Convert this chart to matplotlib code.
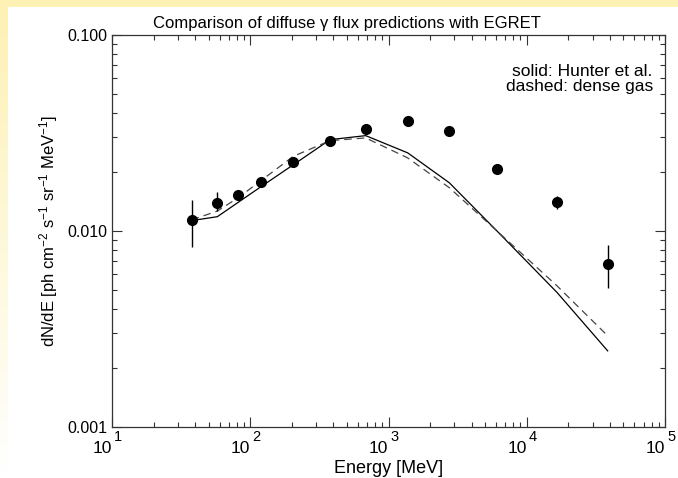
import numpy as np
import matplotlib.pyplot as plt
from matplotlib.ticker import LogLocator, FixedLocator, NullFormatter

plt.rcParams['font.family'] = ['Liberation Sans', 'DejaVu Sans']
plt.rcParams['mathtext.fontset'] = 'custom'
plt.rcParams['mathtext.rm'] = 'Liberation Sans'
plt.rcParams['mathtext.it'] = 'Liberation Sans:italic'

# EGRET data points (MeV, ph cm^-2 s^-1 sr^-1 MeV^-1, scaled as in plot)
energy = [37.7, 57.8, 81.9, 119, 205, 378, 684, 1377, 2754, 6092, 16550, 38500]
flux = [0.01137, 0.01384, 0.01519, 0.01774, 0.02254, 0.02868,
        0.03326, 0.03624, 0.03238, 0.02076, 0.01400, 0.00680]
err_lo = [0.00833, 0.01264, 0.01480, 0.01740, 0.02215, 0.02825,
          0.03280, 0.03580, 0.03200, 0.02045, 0.01292, 0.00509]
err_hi = [0.01432, 0.01586, 0.01555, 0.01810, 0.02295, 0.02910,
          0.03370, 0.03670, 0.03280, 0.02110, 0.01504, 0.00853]

# model predictions
hunter = [0.01130, 0.01183, 0.01401, 0.01679, 0.02178, 0.02925,
          0.03066, 0.02504, 0.01762, 0.01000, 0.00486, 0.002446]
dense = [0.01140, 0.01264, 0.01479, 0.01803, 0.02405, 0.02890,
         0.02985, 0.02360, 0.01663, 0.01000, 0.00525, 0.00292]

x_exp = [1, 2, 3, 4, 5]
y_ticks = [0.001, 0.01, 0.1]
y_labels = ['0.001', '0.010', '0.100']

fig = plt.figure(figsize=(6.78, 4.78), dpi=100)
fig.patch.set_facecolor('white')

# yellow frame: top strip and fading left strip
yel = np.array([253, 241, 180]) / 255.
grad = np.linspace(0, 1, 100)[:, None]
left = yel[None, :] * (1 - grad) + np.array([1, 1, 1])[None, :] * grad
left = left[:, None, :]
bl = fig.add_axes([0, 0, 8/678, 1])
bl.imshow(left, aspect='auto', extent=[0, 1, 0, 1], origin='upper')
bl.axis('off')
bt = fig.add_axes([0, 1 - 7/478, 1, 7/478])
bt.set_facecolor(yel)
bt.set_xticks([]); bt.set_yticks([])
for s in bt.spines.values():
    s.set_visible(False)

ax = fig.add_axes([112/678, 51/478, 553/678, 392/478])
ax.set_xscale('log')
ax.set_yscale('log')
ax.set_xlim(10, 1e5)
ax.set_ylim(0.001, 0.1)

ax.plot(energy, hunter, color='black', lw=0.9)
ax.plot(energy, dense, color='#444444', lw=0.9, ls=(0, (6, 4)))
yerr = [np.array(flux) - np.array(err_lo), np.array(err_hi) - np.array(flux)]
ax.errorbar(energy, flux, yerr=yerr, fmt='o', color='black', ms=7,
            elinewidth=1, capsize=0)

ax.text(0.978, 0.925, 'solid: Hunter et al.\ndashed: dense gas',
        transform=ax.transAxes, ha='right', va='top', fontsize=12.5,
        multialignment='right', linespacing=1.0)

ax.set_title('Comparison of diffuse γ flux predictions with EGRET',
             fontsize=12, pad=5, x=0.425)
ax.set_xlabel('Energy [MeV]', fontsize=13, labelpad=3)
ax.set_ylabel(r'dN/dE [ph cm$^{-2}$ s$^{-1}$ sr$^{-1}$ MeV$^{-1}$]',
              fontsize=12, labelpad=5)

# x ticks: "10" with a large exponent, like the IDL original
ax.set_xticks([10.0**e for e in x_exp])
ax.set_xticklabels(['10'] * len(x_exp))
for lab in ax.get_xticklabels():
    lab.set_horizontalalignment('right')
for e in x_exp:
    ax.annotate(str(e), xy=(10.0**e, 0), xycoords=('data', 'axes fraction'),
                xytext=(1.5, -2.5), textcoords='offset points',
                ha='left', va='top', fontsize=10.5)

ax.yaxis.set_major_locator(FixedLocator(y_ticks))
ax.set_yticklabels(y_labels)
ax.yaxis.set_minor_locator(LogLocator(base=10, subs=np.arange(2, 10)))
ax.yaxis.set_minor_formatter(NullFormatter())
ax.xaxis.set_minor_locator(LogLocator(base=10, subs=np.arange(2, 10)))
ax.xaxis.set_minor_formatter(NullFormatter())

ax.tick_params(which='both', direction='in', top=True, right=True,
               color='#333333')
ax.tick_params(axis='y', labelsize=11.5)
ax.tick_params(axis='x', labelsize=12.5, pad=10)
ax.tick_params(which='major', length=7, width=0.8)
ax.tick_params(which='minor', length=3.5, width=0.8)
for s in ax.spines.values():
    s.set_color('#333333')
    s.set_linewidth(0.9)

fig.savefig('out.png', dpi=100)
